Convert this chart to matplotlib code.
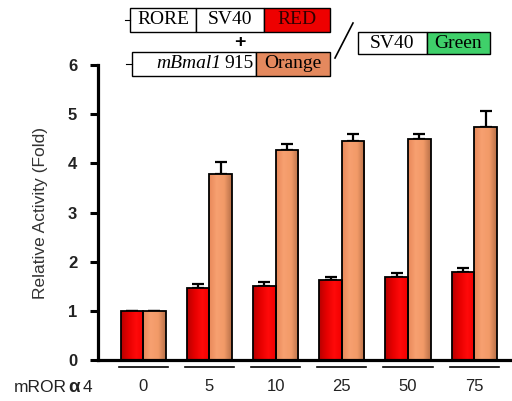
import numpy as np
import matplotlib.pyplot as plt
from matplotlib.colors import LinearSegmentedColormap
from matplotlib.patches import Rectangle

# values
doses = ["0", "5", "10", "25", "50", "75"]
red_vals = [1.00, 1.47, 1.51, 1.62, 1.69, 1.80]
red_err = [0.00, 0.07, 0.07, 0.07, 0.07, 0.07]
orange_vals = [1.00, 3.78, 4.28, 4.46, 4.49, 4.74]
orange_err = [0.00, 0.24, 0.11, 0.13, 0.10, 0.32]

plt.rcParams["font.family"] = ["Liberation Sans", "DejaVu Sans"]

fig = plt.figure(figsize=(5.12, 4.01), dpi=100)
ax = fig.add_axes([0.1914, 0.1022, 0.8086, 0.7357])

x = np.arange(len(doses))
w = 0.34

red_cmap = LinearSegmentedColormap.from_list("r", ["#b80000", "#e60000", "#ff0a0a", "#f20000"])
org_cmap = LinearSegmentedColormap.from_list("o", ["#e8885a", "#f7a070", "#f29a68", "#b87048"])


def grad_bars(xs, vals, errs, cmap):
    bars = ax.bar(xs, vals, w, color="none", edgecolor="black", linewidth=1.3, zorder=3)
    ax.errorbar(xs, vals, yerr=[np.zeros(len(errs)), errs], fmt="none", ecolor="black",
                elinewidth=1.6, capsize=4.5, capthick=1.6, zorder=2)
    grad = np.linspace(0, 1, 64).reshape(1, -1)
    for b in bars:
        bx, by = b.get_x(), b.get_y()
        im = ax.imshow(grad, cmap=cmap, aspect="auto", zorder=2.5,
                       extent=[bx, bx + b.get_width(), by, by + b.get_height()])
        im.set_clip_path(b)
    return bars


grad_bars(x - w / 2, red_vals, red_err, red_cmap)
grad_bars(x + w / 2, orange_vals, orange_err, org_cmap)

ax.set_xlim(-0.68, 5.57)
ax.set_ylim(0, 6)
ax.set_yticks(range(7))
ax.set_yticklabels([str(i) for i in range(7)], fontsize=12, fontweight="bold", color="#222222")
ax.spines["top"].set_visible(False)
ax.spines["right"].set_visible(False)
ax.spines["left"].set_linewidth(2.3)
ax.spines["bottom"].set_linewidth(2.3)
ax.tick_params(axis="y", length=6, width=2.2, pad=9)
ax.set_xticks(x)
ax.set_xticklabels(doses, fontsize=12, color="#222222")
ax.tick_params(axis="x", length=0, pad=14)
ax.set_ylabel("Relative Activity (Fold)", fontsize=12.5, color="#333333", labelpad=14)

# underline under each group
for xi in x:
    ax.plot([xi - 0.37, xi + 0.37], [-0.14, -0.14], color="black", lw=1.2, clip_on=False)

# overlay in pixel coordinates for the construct diagram and row label
ov = fig.add_axes([0, 0, 1, 1], facecolor="none")
ov.set_xlim(0, 512)
ov.set_ylim(401, 0)
ov.axis("off")
serif = ["Liberation Serif", "DejaVu Serif"]

ov.text(14, 388, "mROR", fontsize=12.5, ha="left", va="center", color="#222222")
ov.text(68, 388, "\u03b1", fontsize=13.5, fontweight="bold", ha="left", va="center", color="#222222")
ov.text(83, 388, "4", fontsize=12.5, ha="left", va="center", color="#222222")


def box(x0, x1, y0, y1, fc):
    ov.add_patch(Rectangle((x0, y0), x1 - x0, y1 - y0, facecolor=fc, edgecolor="black", lw=1.0))


# RORE - SV40 - RED
box(130, 196, 8, 32, "white")
box(196, 264, 8, 32, "white")
box(264, 330, 8, 32, "#ee0000")
ov.plot([125, 130], [20, 20], color="black", lw=0.8)
ov.text(163, 20, "RORE", family=serif, fontsize=14, ha="center", va="center")
ov.text(230, 20, "SV40", family=serif, fontsize=14, ha="center", va="center")
ov.text(297, 20, "RED", family=serif, fontsize=14, ha="center", va="center", color="#300000")
ov.text(240, 43, "+", fontsize=14, fontweight="bold", ha="center", va="center")

# mBmal1 915 - Orange
box(132, 256, 52, 76, "white")
box(256, 330, 52, 76, "#e4895e")
ov.plot([126, 132], [64, 64], color="black", lw=0.8)
ov.text(221, 64, "mBmal1", family=serif, style="italic", fontsize=14, ha="right", va="center")
ov.text(224, 64, "915", family=serif, fontsize=14, ha="left", va="center")
ov.text(293, 64, "Orange", family=serif, fontsize=14, ha="center", va="center")

# slash and control construct
ov.plot([335, 353], [58, 23], color="black", lw=1.2)
box(358, 427, 32, 54, "white")
box(427, 490, 32, 54, "#3fd06a")
ov.text(392, 43, "SV40", family=serif, fontsize=14, ha="center", va="center")
ov.text(458, 43, "Green", family=serif, fontsize=14, ha="center", va="center")

fig.savefig("out.png", dpi=100)
